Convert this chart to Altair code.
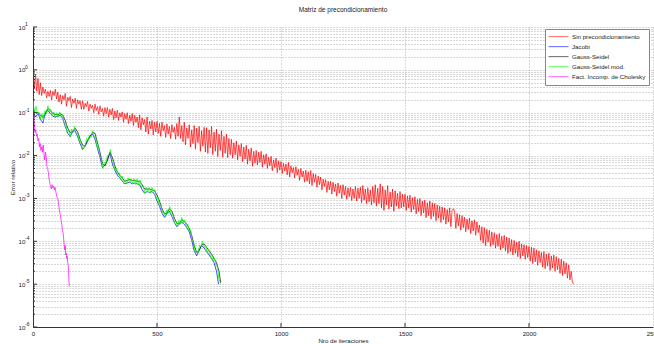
import altair as alt
import pandas as pd

FONT = "Liberation Sans"

series_names = ["Sin precondicionamiento", "Jacobi", "Gauss-Seidel",
                "Gauss-Seidel mod.", "Fact. Incomp. de Cholesky"]
series_colors = ["#ff0000", "#0000ff", "#000000", "#00ff00", "#ff00ff"]

# log10 of the relative error (red: every 5 iterations)
red_exp = [
    0.0, -0.45, -0.1, -0.5, -0.2, -0.58, -0.3, -0.6, -0.4, -0.55, -0.45, -0.65, -0.5, -0.62, -0.48, -0.7, -0.5, -0.6, -0.45, -0.68,
    -0.52, -0.75, -0.58, -0.8, -0.6, -0.7, -0.55, -0.85, -0.64, -0.72, -0.62, -0.88, -0.68, -0.78, -0.66, -0.9, -0.7, -0.8, -0.72, -0.92,
    -0.72, -0.92, -0.78, -0.86, -0.74, -0.96, -0.8, -0.9, -0.82, -1.0, -0.8, -0.95, -0.86, -1.04, -0.84, -0.98, -0.9, -1.08, -0.88, -1.02,
    -0.88, -1.1, -0.92, -1.05, -0.9, -1.16, -0.96, -1.12, -0.94, -1.18, -1.0, -1.1, -0.98, -1.22, -1.02, -1.15, -1.0, -1.25, -1.06, -1.2,
    -1.02, -1.3, -1.06, -1.22, -1.1, -1.35, -1.05, -1.4, -1.12, -1.28, -1.16, -1.45, -1.1, -1.5, -1.2, -1.38, -1.18, -1.52, -1.22, -1.45,
    -1.2, -1.48, -1.25, -1.55, -1.22, -1.42, -1.3, -1.58, -1.26, -1.5, -1.32, -1.6, -1.28, -1.46, -1.34, -1.62, -1.25, -1.55, -1.1, -1.6,
    -1.3, -1.68, -1.22, -1.75, -1.35, -1.6, -1.28, -1.8, -1.4, -1.72, -1.3, -1.85, -1.36, -1.7, -1.32, -1.9, -1.42, -1.78, -1.34, -1.92,
    -1.35, -1.95, -1.4, -1.82, -1.32, -1.98, -1.45, -1.9, -1.38, -2.02, -1.5, -1.88, -1.42, -2.04, -1.55, -1.95, -1.5, -2.05, -1.6, -1.98,
    -1.62, -2.06, -1.7, -1.98, -1.66, -2.1, -1.75, -2.02, -1.72, -2.14, -1.8, -2.08, -1.76, -2.2, -1.85, -2.12, -1.82, -2.25, -1.9, -2.18,
    -1.88, -2.22, -1.92, -2.16, -1.9, -2.27, -1.98, -2.2, -1.96, -2.3, -2.04, -2.24, -2.02, -2.35, -2.1, -2.28, -2.06, -2.4, -2.12, -2.34,
    -2.14, -2.42, -2.18, -2.36, -2.2, -2.45, -2.16, -2.5, -2.24, -2.4, -2.28, -2.52, -2.26, -2.46, -2.32, -2.58, -2.3, -2.5, -2.36, -2.62,
    -2.34, -2.6, -2.38, -2.66, -2.35, -2.7, -2.42, -2.62, -2.44, -2.74, -2.48, -2.68, -2.5, -2.8, -2.55, -2.72, -2.56, -2.86, -2.6, -2.8,
    -2.6, -2.9, -2.62, -2.84, -2.66, -2.95, -2.64, -2.88, -2.7, -3.0, -2.68, -2.92, -2.72, -3.02, -2.75, -2.96, -2.74, -3.05, -2.78, -3.0,
    -2.72, -3.06, -2.76, -3.0, -2.74, -3.1, -2.7, -3.04, -2.78, -3.12, -2.75, -3.08, -2.8, -3.15, -2.72, -3.1, -2.68, -3.18, -2.76, -3.12,
    -2.66, -3.22, -2.72, -3.28, -2.8, -3.15, -2.7, -3.25, -2.85, -3.2, -2.78, -3.3, -2.82, -3.18, -2.88, -3.24, -2.84, -3.22, -2.9, -3.2,
    -2.9, -3.28, -2.94, -3.22, -2.92, -3.32, -2.98, -3.26, -2.96, -3.36, -3.02, -3.3, -3.0, -3.4, -3.06, -3.34, -3.04, -3.45, -3.1, -3.4,
    -3.06, -3.48, -3.1, -3.42, -3.12, -3.52, -3.15, -3.46, -3.18, -3.56, -3.2, -3.5, -3.22, -3.6, -3.26, -3.55, -3.22, -3.66, -3.28, -3.24,
    -3.3, -3.7, -3.35, -3.64, -3.38, -3.74, -3.4, -3.68, -3.44, -3.78, -3.48, -3.72, -3.46, -3.82, -3.52, -3.76, -3.5, -3.86, -3.55, -3.8,
    -3.62, -3.98, -3.66, -4.04, -3.68, -4.1, -3.72, -4.02, -3.74, -4.12, -3.78, -4.08, -3.8, -4.16, -3.84, -4.12, -3.82, -4.2, -3.88, -4.16,
    -3.86, -4.22, -3.9, -4.28, -3.92, -4.24, -3.96, -4.32, -3.98, -4.28, -4.02, -4.36, -4.0, -4.4, -4.06, -4.34, -4.08, -4.42, -4.1, -4.38,
    -4.12, -4.46, -4.14, -4.52, -4.16, -4.48, -4.2, -4.56, -4.22, -4.5, -4.26, -4.6, -4.24, -4.64, -4.3, -4.58, -4.28, -4.68, -4.34, -4.62,
    -4.32, -4.7, -4.36, -4.66, -4.4, -4.75, -4.42, -4.8, -4.46, -4.76, -4.5, -4.86, -4.55, -4.9, -4.7, -4.95, -5.0,
]
red_it = [5 * i for i in range(len(red_exp))]

blue_exp = [
    -0.95, -1.1, -1.02, -1.16, -1.24, -1.0, -0.95, -1.02, -1.08, -1.1,
    -1.08, -1.06, -1.14, -1.32, -1.48, -1.56, -1.44, -1.42, -1.56, -1.72,
    -1.86, -1.78, -1.66, -1.56, -1.5, -1.62, -1.84, -2.04, -2.28, -2.22,
    -2.08, -1.94, -2.2, -2.34, -2.46, -2.52, -2.6, -2.66, -2.64, -2.62,
    -2.66, -2.64, -2.66, -2.68, -2.8, -2.88, -2.84, -2.86, -2.84, -2.9,
    -3.06, -3.18, -3.34, -3.44, -3.36, -3.3, -3.42, -3.56, -3.66, -3.6,
    -3.56, -3.6, -3.68, -3.78, -3.98, -4.22, -4.34, -4.2, -4.1, -4.16,
    -4.24, -4.32, -4.4, -4.5, -4.7, -5.0,
]
blue_it = [10 * i for i in range(len(blue_exp) - 1)] + [748]

black_exp = [
    -0.9, -1.0, -1.0, -1.06, -1.1, -1.02, -0.9, -0.95, -1.02, -1.04,
    -1.05, -1.02, -1.06, -1.18, -1.36, -1.46, -1.44, -1.36, -1.45, -1.62,
    -1.76, -1.78, -1.64, -1.55, -1.46, -1.48, -1.7, -1.92, -2.18, -2.24,
    -2.12, -1.92, -2.04, -2.24, -2.38, -2.46, -2.52, -2.6, -2.58, -2.56,
    -2.58, -2.58, -2.6, -2.6, -2.68, -2.78, -2.78, -2.78, -2.8, -2.82,
    -2.92, -3.06, -3.24, -3.36, -3.34, -3.24, -3.3, -3.46, -3.58, -3.58,
    -3.5, -3.54, -3.6, -3.7, -3.86, -4.1, -4.26, -4.22, -4.08, -4.06,
    -4.14, -4.22, -4.3, -4.4, -4.5, -4.7, -4.98,
]
black_it = [10 * i for i in range(len(black_exp) - 1)] + [757]

green_exp = [
    -0.72, -1.0, -0.85, -1.05, -0.98, -1.14, -1.02, -1.18, -0.95, -1.02,
    -0.84, -0.98, -0.92, -1.08, -0.98, -1.12, -1.0, -1.1, -0.98, -1.08,
    -1.04, -1.26, -1.24, -1.46, -1.4, -1.56, -1.38, -1.46, -1.32, -1.5,
    -1.46, -1.66, -1.64, -1.84, -1.75, -1.8, -1.6, -1.66, -1.52, -1.58,
    -1.42, -1.56, -1.56, -1.8, -1.76, -2.04, -2.06, -2.3, -2.16, -2.2,
    -2.0, -2.0, -1.86, -2.1, -2.14, -2.34, -2.3, -2.48, -2.4, -2.56,
    -2.48, -2.66, -2.56, -2.66, -2.52, -2.64, -2.54, -2.66, -2.54, -2.68,
    -2.54, -2.68, -2.57, -2.76, -2.7, -2.87, -2.74, -2.84, -2.74, -2.88,
    -2.74, -2.88, -2.79, -3.01, -2.99, -3.18, -3.14, -3.36, -3.32, -3.44,
    -3.26, -3.33, -3.19, -3.39, -3.36, -3.56, -3.52, -3.66, -3.51, -3.58,
    -3.44, -3.59, -3.5, -3.66, -3.6, -3.78, -3.74, -4.01, -4.02, -4.26,
    -4.22, -4.28, -4.09, -4.14, -3.99, -4.16, -4.09, -4.26, -4.19, -4.36,
    -4.29, -4.46, -4.4, -4.58, -4.59, -4.9, -4.97,
]
green_it = [6 * i for i in range(len(green_exp))]

magenta_it = [0, 2, 4, 6, 8, 11, 14, 17, 20, 23, 26, 29, 32, 35, 38, 41, 44,
              47, 50, 53, 56, 59, 62, 65, 68, 71, 74, 77, 80, 83, 86, 89, 92,
              95, 98, 101, 104, 107, 110, 113, 116, 119, 122, 125, 128, 130,
              132, 134, 136, 138, 140, 142, 144, 146]
magenta_exp = [-0.6, -0.9, -1.1, -1.3, -1.46, -1.4, -1.55, -1.5, -1.65, -1.6,
               -1.8, -1.72, -1.88, -1.8, -1.92, -1.75, -1.95, -2.1, -1.92, -2.0,
               -2.25, -2.3, -2.4, -2.55, -2.65, -2.72, -2.78, -2.68, -2.75,
               -2.72, -2.8, -2.74, -2.85, -2.92, -3.0, -3.02, -3.15, -3.3,
               -3.38, -3.5, -3.6, -3.75, -3.82, -4.05, -4.2, -4.1, -4.32,
               -4.28, -4.4, -4.35, -4.5, -4.55, -4.8, -5.05]

x_ticks = [0, 500, 1000, 1500, 2000, 2500]
y_decades = [1e1, 1e0, 1e-1, 1e-2, 1e-3, 1e-4, 1e-5, 1e-6]
y_exponent_labels = ["1", "0", "-1", "-2", "-3", "-4", "-5", "-6"]
y_minor = [k * d for d in y_decades[1:] for k in range(2, 10)]

rows = []
for name, its, exps in zip(series_names,
                           [red_it, blue_it, black_it, green_it, magenta_it],
                           [red_exp, blue_exp, black_exp, green_exp, magenta_exp]):
    for it, e in zip(its, exps):
        rows.append({"it": it, "err": 10 ** e, "serie": name})
df = pd.DataFrame(rows)

yscale = alt.Scale(type="log", domain=[1e-6, 10], nice=False)
xscale = alt.Scale(domain=[0, 2500], nice=False, zero=False)

color = alt.Color(
    "serie:N",
    scale=alt.Scale(domain=series_names, range=series_colors),
    legend=alt.Legend(
        title=None, orient="none", legendX=512, legendY=2,
        symbolType="stroke", symbolSize=400, symbolStrokeWidth=1,
        clipHeight=9.3, rowPadding=0, labelFontSize=6.2, labelFont=FONT,
        labelColor="#222", labelOffset=3, padding=3,
        strokeColor="#888", fillColor="white", symbolOpacity=0.6,
    ),
)

axis_style = dict(
    domainColor="#333", domainWidth=1, labelColor="#222", labelFont=FONT,
    labelFontSize=6.2, titleFont=FONT, titleFontSize=6.2, titleFontWeight="normal",
    titleColor="#222", gridColor="#b0b0b0", gridDash=[1, 2], gridWidth=1,
    ticks=False, grid=True,
)

xenc = alt.X("it:Q", scale=xscale, axis=alt.Axis(
    values=x_ticks, title="Nro de iteraciones", format="d",
    labelPadding=3, titlePadding=1, labelFlush=False, **axis_style))
yenc = alt.Y("err:Q", scale=yscale, axis=alt.Axis(
    values=y_decades + y_minor, title="Error relativo",
    labelPadding=8, titlePadding=3,
    labelExpr="abs(log(datum.value)/LN10 - round(log(datum.value)/LN10)) < 0.001 ? '10' : ''",
    **axis_style))

base = alt.Chart(df)
layers = []
for name in series_names:
    layers.append(
        base.transform_filter(alt.datum.serie == name)
        .mark_line(strokeWidth=0.7, clip=True)
        .encode(x=xenc, y=yenc, color=color)
    )

major_ticks = alt.Chart(pd.DataFrame({"err": y_decades})).mark_rule(
    color="#333", strokeWidth=1).encode(y=yenc, x=alt.value(0), x2=alt.value(4))
minor_ticks = alt.Chart(pd.DataFrame({"err": y_minor})).mark_rule(
    color="#333", strokeWidth=1).encode(y=yenc, x=alt.value(0), x2=alt.value(2))
x_tick_marks = alt.Chart(pd.DataFrame({"it": x_ticks[1:-1]})).mark_rule(
    color="#333", strokeWidth=1).encode(x=xenc, y=alt.value(300), y2=alt.value(296))
exponents = alt.Chart(pd.DataFrame({"err": y_decades, "e": y_exponent_labels})).mark_text(
    align="left", baseline="middle", dy=-3, fontSize=5, font=FONT, color="#222").encode(
    y=yenc, x=alt.value(-8), text="e:N")

chart = alt.layer(*layers, major_ticks, minor_ticks, x_tick_marks, exponents).properties(
    width=620, height=300,
    title=alt.TitleParams("Matriz de precondicionamiento", fontSize=6.5, font=FONT,
                          fontWeight="normal", color="#222", offset=9, anchor="middle"),
    autosize=alt.AutoSizeParams(type="none"),
    padding={"left": 33, "top": 27, "right": 1, "bottom": 17},
    background="white",
).configure_view(stroke=None)

chart.save("out.html", embed_options={"renderer": "svg", "actions": False})
